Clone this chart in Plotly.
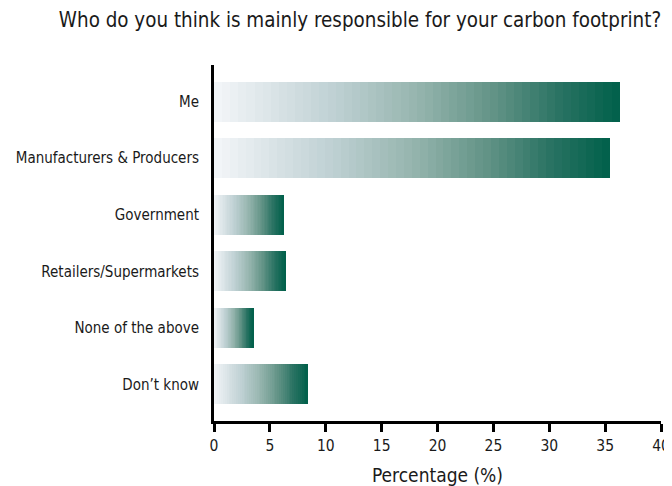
import plotly.graph_objects as go

categories = ["Me", "Manufacturers & Producers", "Government",
              "Retailers/Supermarkets", "None of the above", "Don\u2019t know"]
values = [36.3, 35.4, 6.25, 6.4, 3.5, 8.4]
x_ticks = [0, 5, 10, 15, 20, 25, 30, 35, 40]

title_text = "Who do you think is mainly responsible for your carbon footprint?"
x_title = "Percentage (%)"

# gradient stops (position, rgb) from light to dark green
stops = [(0.0, (244, 246, 249)), (0.3, (190, 208, 211)), (0.5, (150, 181, 174)),
         (0.7, (95, 145, 132)), (0.85, (42, 115, 99)), (1.0, (0, 96, 74))]

def grad(t):
    for (p0, c0), (p1, c1) in zip(stops[:-1], stops[1:]):
        if p0 <= t <= p1:
            f = (t - p0) / (p1 - p0)
            return "rgb(%d,%d,%d)" % tuple(round(a + (b - a) * f) for a, b in zip(c0, c1))
    return "rgb(%d,%d,%d)" % stops[-1][1]

N = 50
fig = go.Figure()
for k in range(N):
    fig.add_trace(go.Bar(
        y=categories,
        x=[v / N for v in values],
        orientation="h",
        marker=dict(color=grad((k + 0.5) / N), line=dict(width=0)),
        showlegend=False,
        hoverinfo="skip",
    ))

# page body has an 8px margin; figure sized to fill the rest of the window
OFF = 8
W, H = 672 - OFF, 486 - OFF
font = "DejaVu Sans Condensed, Liberation Sans Narrow, sans-serif"
fig.update_layout(
    width=W, height=H,
    margin=dict(l=214 - OFF, r=11, t=65 - OFF, b=H - (421 - OFF)),
    paper_bgcolor="white", plot_bgcolor="white",
    barmode="stack", bargap=0.29,
    font=dict(family=font, size=15, color="#1a1a1a"),
    title=dict(text=title_text, x=(360 - OFF) / W, xanchor="center", y=1 - (20 - OFF) / H,
               yanchor="middle", font=dict(size=20.4, color="#1a1a1a")),
    xaxis=dict(range=[0, 40], tickvals=x_ticks, showgrid=False, zeroline=False,
               automargin=False,
               showline=True, linecolor="black", linewidth=3,
               ticks="outside", ticklen=8, tickwidth=3, tickcolor="black",
               title=dict(text=x_title, font=dict(size=19), standoff=20),
               tickfont=dict(size=15.5)),
    yaxis=dict(range=[5.65, -0.65], showgrid=False, zeroline=False,
               automargin=False,
               showline=True, linecolor="black", linewidth=3,
               ticks="", ticklabelstandoff=9, tickfont=dict(size=15)),
)

fig.write_html("out.html")
